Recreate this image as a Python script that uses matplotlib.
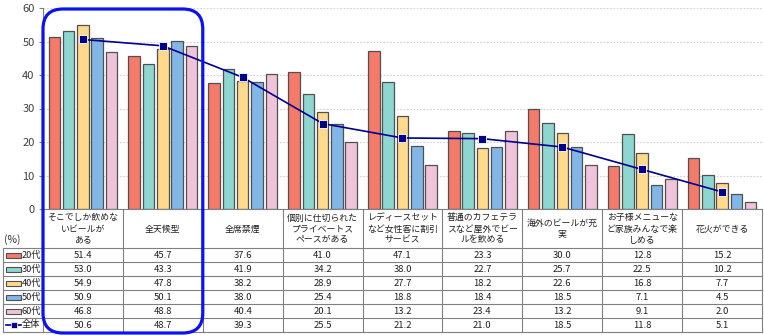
import numpy as np
import matplotlib.pyplot as plt
from matplotlib.patches import Rectangle, FancyBboxPatch

plt.rcParams['font.family'] = ['Noto Sans CJK JP', 'DejaVu Sans']

categories = [
    "そこでしか飲めな\nいビールが\nある",
    "全天候型",
    "全席禁煙",
    "個別に仕切られた\nプライベートス\nペースがある",
    "レディースセット\nなど女性客に割引\nサービス",
    "普通のカフェテラ\nスなど屋外でビー\nルを飲める",
    "海外のビールが充\n実",
    "お子様メニューな\nど家族みんなで楽\nしめる",
    "花火ができる",
]
age_labels = ["20代", "30代", "40代", "50代", "60代"]
age_20 = [51.4, 45.7, 37.6, 41.0, 47.1, 23.3, 30.0, 12.8, 15.2]
age_30 = [53.0, 43.3, 41.9, 34.2, 38.0, 22.7, 25.7, 22.5, 10.2]
age_40 = [54.9, 47.8, 38.2, 28.9, 27.7, 18.2, 22.6, 16.8, 7.7]
age_50 = [50.9, 50.1, 38.0, 25.4, 18.8, 18.4, 18.5, 7.1, 4.5]
age_60 = [46.8, 48.8, 40.4, 20.1, 13.2, 23.4, 13.2, 9.1, 2.0]
total = [50.6, 48.7, 39.3, 25.5, 21.2, 21.0, 18.5, 11.8, 5.1]
total_label = "全体"

series = [age_20, age_30, age_40, age_50, age_60]
colors = ["#F47A6A", "#8ED6D0", "#FFDA8C", "#82B6E6", "#F0C3DA"]
edge = "#505050"
navy = "#00008B"

W, H = 764, 335
fig = plt.figure(figsize=(W / 100, H / 100), dpi=100)

# plot area in pixels
px_left, px_right, px_top, px_axis = 43, 762, 8, 209
ax = fig.add_axes([px_left / W, 1 - px_axis / H,
                   (px_right - px_left) / W, (px_axis - px_top) / H])
n = len(categories)
x = np.arange(n) + 0.5
step, bw = 0.179, 0.144
for k, vals in enumerate(series):
    ax.bar(x + (k - 2) * step, vals, width=bw, color=colors[k],
           edgecolor=edge, linewidth=0.9, zorder=2)
ax.plot(x, total, color=navy, lw=1.2, marker="s", markersize=6,
        markerfacecolor=navy, markeredgecolor="white", markeredgewidth=0.6,
        zorder=3)

ax.set_xlim(0, n)
ax.set_ylim(0, 60)
ax.set_yticks(range(0, 61, 10))
ax.set_xticks([])
ax.tick_params(axis="y", labelsize=8, labelcolor="#404040", length=3,
               color="#808080", pad=3)
ax.yaxis.grid(True, linestyle=(0, (1.5, 1.5)), color="#d0d0d0", lw=0.8)
ax.set_axisbelow(True)
for s in ["top", "right"]:
    ax.spines[s].set_visible(False)
ax.spines["left"].set_color("#808080")
ax.spines["bottom"].set_color("#808080")

# data table under the chart
unit = (px_right - px_left) / n
tab_left = 3
hdr, row_h = 39, 14
tab_h = hdr + row_h * 6
tab = fig.add_axes([tab_left / W, 1 - (px_axis + tab_h) / H,
                    (px_right - tab_left) / W, tab_h / H])
x0 = -(px_left - tab_left) / unit
tab.set_xlim(x0, n)
tab.set_ylim(tab_h, 0)
tab.axis("off")

gc = "#808080"
for i in range(n + 1):
    tab.plot([i, i], [0, tab_h], color=gc, lw=0.8, clip_on=False)
tab.plot([x0, x0], [hdr, tab_h], color=gc, lw=0.8, clip_on=False)
for r in range(7):
    yy = hdr + r * row_h
    tab.plot([x0, n], [yy, yy], color=gc, lw=0.8, clip_on=False)

for i, cat in enumerate(categories):
    tab.text(i + 0.5, hdr / 2 + 0.5, cat, ha="center", va="center",
             fontsize=6.4, linespacing=1.3, color="#202020")

rows = series + [total]
for r, vals in enumerate(rows):
    yc = hdr + r * row_h + row_h / 2
    for i, v in enumerate(vals):
        tab.text(i + 0.5, yc, f"{v:.1f}", ha="center", va="center",
                 fontsize=6.8, color="#202020")
    # legend key in the first column
    kx0 = (6 - px_left) / unit
    kx1 = (21 - px_left) / unit
    if r < 5:
        tab.add_patch(Rectangle((kx0, yc - 2.5), kx1 - kx0, 5,
                                facecolor=colors[r], edgecolor=edge, lw=0.8))
        lab = age_labels[r]
    else:
        tab.plot([kx0, kx1], [yc, yc], color=navy, lw=1.2)
        tab.plot([(kx0 + kx1) / 2], [yc], marker="s", markersize=4.5,
                 color=navy, markeredgecolor="white", markeredgewidth=0.5)
        lab = total_label
    tab.text((22 - px_left) / unit, yc, lab, ha="left", va="center",
             fontsize=6.6, color="#202020")

tab.text((4 - px_left) / unit, hdr - 8, "(%)", ha="left", va="center",
         fontsize=7.5, color="#303030")

# highlight frame around the first two items
over = fig.add_axes([0, 0, 1, 1], zorder=10)
over.set_xlim(0, W)
over.set_ylim(H, 0)
over.axis("off")
bx0 = px_left
bx1 = px_left + 2 * unit
by0, by1 = px_top + 1, px_axis + tab_h + 1
over.add_patch(FancyBboxPatch((bx0, by0), bx1 - bx0, by1 - by0,
                              boxstyle="round,pad=0,rounding_size=20",
                              fill=False, edgecolor="#0A14F0", lw=2.3))

fig.savefig("out.png", dpi=100)
